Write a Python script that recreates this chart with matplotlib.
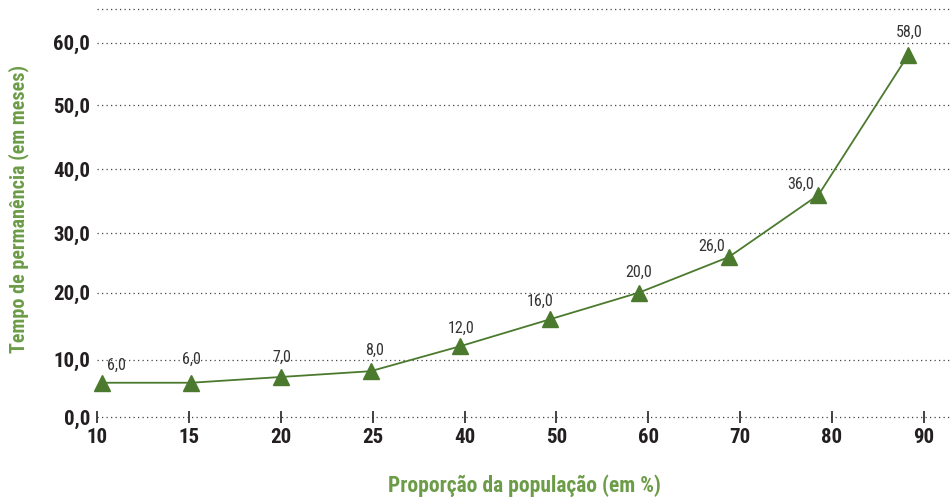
import numpy as np
import matplotlib
matplotlib.use("Agg")
import matplotlib.pyplot as plt
from matplotlib import font_manager as fm

names = {f.name for f in fm.fontManager.ttflist}
cands = ['Roboto Condensed', 'Liberation Sans Narrow', 'DejaVu Sans Condensed',
         'Open Sans Condensed', 'Noto Sans Condensed']
fams = [c for c in cands if c in names] + ['DejaVu Sans']
plt.rcParams['font.family'] = fams
plt.rcParams['font.stretch'] = 'condensed'

# ---- data ----
categories = ["10", "15", "20", "25", "40", "50", "60", "70", "80", "90"]
values = [6.0, 6.0, 7.0, 8.0, 12.0, 16.0, 20.0, 26.0, 36.0, 58.0]
value_labels = ["6,0", "6,0", "7,0", "8,0", "12,0", "16,0", "20,0", "26,0", "36,0", "58,0"]
ytick_values = [0, 10, 20, 30, 40, 50, 60, 70]
ytick_labels = ["0,0", "10,0", "20,0", "30,0", "40,0", "50,0", "60,0", ""]
xlabel = "Proporção da população (em %)"
ylabel = "Tempo de permanência (em meses)"

# ---- style ----
GREEN = "#4b7a2e"
LABEL_GREEN = "#6c9c48"
DARK = "#231f20"
label_offsets = [(15, 17), (0, 23), (1, 20), (4, 21), (1, 18),
                 (-10, 18), (-1, 20), (-17, 11), (-18, 11), (1, 23)]

grid_heights = [0, 57.6, 124.8, 184.0, 248.0, 312.0, 374.6, 408.0]
_v = np.array([-1000.0] + ytick_values + [1000.0])
_h = np.concatenate([[-1000 * 5.76], np.array(grid_heights),
                     [408.0 + (1000 - 70) * 3.34]])


def fwd(v):
    return np.interp(v, _v, _h)


def inv(h):
    return np.interp(h, _h, _v)


W, H = 952, 497
fig = plt.figure(figsize=(W / 100, H / 100), dpi=100)
ax = fig.add_axes([97 / W, (H - 417.3) / H, (W - 97) / W, (417.3 - 9.3) / H])
ax.set_yscale('function', functions=(fwd, inv))
ax.set_ylim(0, 70)

x = np.arange(len(categories))
ax.plot(x, values, color=GREEN, lw=1.3, marker='^', ms=11,
        markerfacecolor=GREEN, markeredgecolor=GREEN, zorder=3, clip_on=False)
for xi, yi, lab, (dx, dy) in zip(x, values, value_labels, label_offsets):
    ax.annotate(lab, (xi, yi), xytext=(dx, dy), textcoords='offset pixels',
                ha='center', va='center', fontsize=11.5, color="#333333")

ax.set_xlim(-0.0525, 9.49)
ax.set_xticks([])
ax.set_yticks(ytick_values)
ax.set_yticklabels(ytick_labels, fontsize=15, fontweight='bold', color=DARK)
ax.tick_params(axis='y', length=0, pad=5)
ax.yaxis.grid(True, color="#444444", lw=0.9, linestyle=(0, (1, 2.6)))
for gl in ax.get_ygridlines():
    gl.set_clip_on(False)
ax.set_axisbelow(True)
for s in ax.spines.values():
    s.set_visible(False)

ax2 = ax.twiny()
ax2.xaxis.set_ticks_position('bottom')
ax2.xaxis.set_label_position('bottom')
ax2.set_xlim(-0.0033, 9.31)
ax2.set_xticks(np.arange(len(categories)))
ax2.set_xticklabels(categories, fontsize=15, fontweight='bold', color=DARK)
ax2.tick_params(axis='x', direction='inout', length=8, width=1.3,
                color="#333333", pad=4)
for s in ax2.spines.values():
    s.set_visible(False)

fig.text(524 / W, 5 / H, xlabel, ha='center', va='baseline',
         fontsize=15.5, fontweight='bold', color=LABEL_GREEN)
fig.text(18.5 / W, (H - 208.6) / H, ylabel, ha='center', va='center',
         rotation=90, fontsize=14.5, fontweight='bold', color=LABEL_GREEN)

fig.savefig("out.png", dpi=100)
